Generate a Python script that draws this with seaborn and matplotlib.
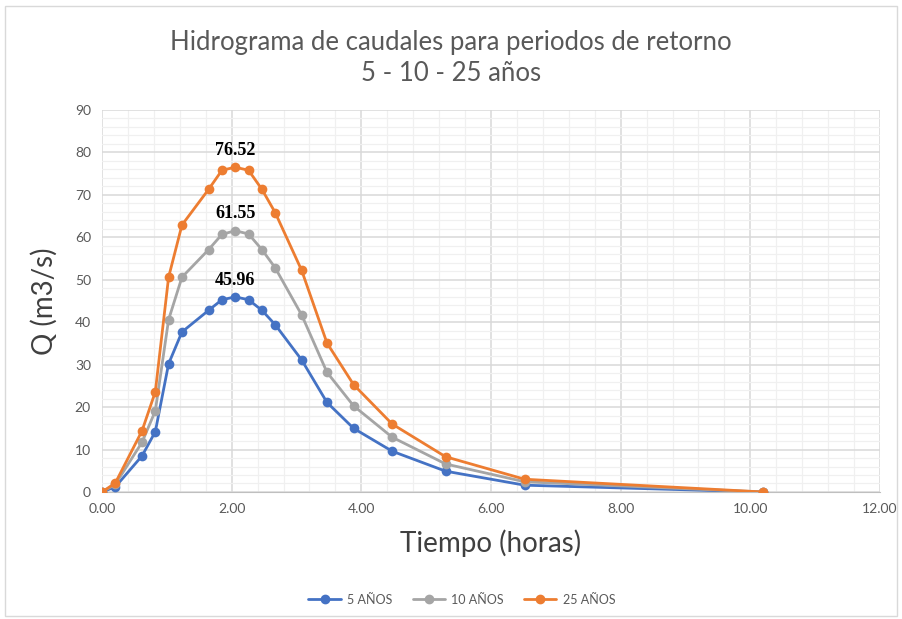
import pandas as pd
import matplotlib.pyplot as plt
import seaborn as sns
from matplotlib.ticker import MultipleLocator, FormatStrFormatter
from matplotlib.patches import Rectangle

# datos
tiempo = [0.0, 0.205, 0.617, 0.822, 1.027, 1.233, 1.644, 1.85, 2.055, 2.26,
          2.467, 2.672, 3.08, 3.47, 3.88, 4.476, 5.30, 6.52, 10.2]
q_5 = [0.0, 1.2, 8.5, 14.2, 30.2, 37.7, 42.8, 45.3, 45.96, 45.3,
       42.8, 39.4, 31.1, 21.1, 15.0, 9.6, 4.9, 1.6, 0.0]
q_10 = [0.0, 1.8, 11.7, 19.1, 40.6, 50.6, 57.1, 60.7, 61.55, 60.8,
        57.1, 52.8, 41.7, 28.2, 20.3, 12.9, 6.6, 2.4, 0.0]
q_25 = [0.0, 2.1, 14.4, 23.6, 50.6, 62.9, 71.3, 75.8, 76.52, 75.8,
        71.3, 65.8, 52.2, 35.1, 25.3, 16.0, 8.3, 3.0, 0.0]
series = ["5 AÑOS", "10 AÑOS", "25 AÑOS"]
colores = ["#4472C4", "#A5A5A5", "#ED7D31"]

df = pd.DataFrame({"Tiempo": tiempo * 3,
                   "Q": q_5 + q_10 + q_25,
                   "Serie": [s for s in series for _ in tiempo]})

sns.set_style("white")
plt.rcParams["font.family"] = ["Lato", "DejaVu Sans"]

fig = plt.figure(figsize=(9.02, 6.19), dpi=100)
ax = fig.add_axes([0.1131, 0.2052, 0.8625, 0.6171])

sns.lineplot(data=df, x="Tiempo", y="Q", hue="Serie", palette=colores,
             marker="o", markersize=7, markeredgewidth=0, linewidth=2,
             ax=ax, legend=False, zorder=3)

# etiquetas del pico
for qs, c in zip([q_5, q_10, q_25], colores):
    i = qs.index(max(qs))
    ax.annotate(f"{qs[i]:.2f}", (tiempo[i], qs[i]), xytext=(0, 6),
                textcoords="offset points", ha="center", va="bottom",
                fontsize=13, fontweight="bold", family="Liberation Serif",
                color="black")

ax.set_xlim(0, 12)
ax.set_ylim(0, 90)
ax.xaxis.set_major_locator(MultipleLocator(2))
ax.xaxis.set_minor_locator(MultipleLocator(0.4))
ax.yaxis.set_major_locator(MultipleLocator(10))
ax.yaxis.set_minor_locator(MultipleLocator(2))
ax.xaxis.set_major_formatter(FormatStrFormatter("%.2f"))
ax.grid(which="major", color="#D9D9D9", linewidth=1.1, zorder=0)
ax.grid(which="minor", color="#F0F0F0", linewidth=0.9, zorder=0)
ax.set_axisbelow(True)
for s in ["top", "right", "left"]:
    ax.spines[s].set_visible(False)
ax.spines["bottom"].set_color("#BFBFBF")
ax.tick_params(which="both", length=0, labelsize=10, colors="#595959", pad=8)

ax.set_xlabel("Tiempo (horas)", fontsize=20, color="#404040", labelpad=10)
ax.set_ylabel("Q (m3/s)", fontsize=20, color="#404040", labelpad=12)

fig.text(0.5, 0.932, "Hidrograma de caudales para periodos de retorno",
         ha="center", va="center", fontsize=18.5, color="#595959")
fig.text(0.5, 0.882, "5 - 10 - 25 años", ha="center", va="center",
         fontsize=18.5, color="#595959")

handles = [plt.Line2D([], [], color=c, marker="o", markersize=6, linewidth=2)
           for c in colores]
fig.legend(handles, series, loc="center", bbox_to_anchor=(0.512, 0.031),
           ncol=3, frameon=False, fontsize=9, handlelength=2.6,
           handletextpad=0.5, columnspacing=1.6, labelcolor="#595959")

fig.patches.append(Rectangle((0.005, 0.005), 0.99, 0.985, transform=fig.transFigure,
                             fill=False, edgecolor="#D9D9D9", linewidth=1))

plt.savefig("out.png", dpi=100)
